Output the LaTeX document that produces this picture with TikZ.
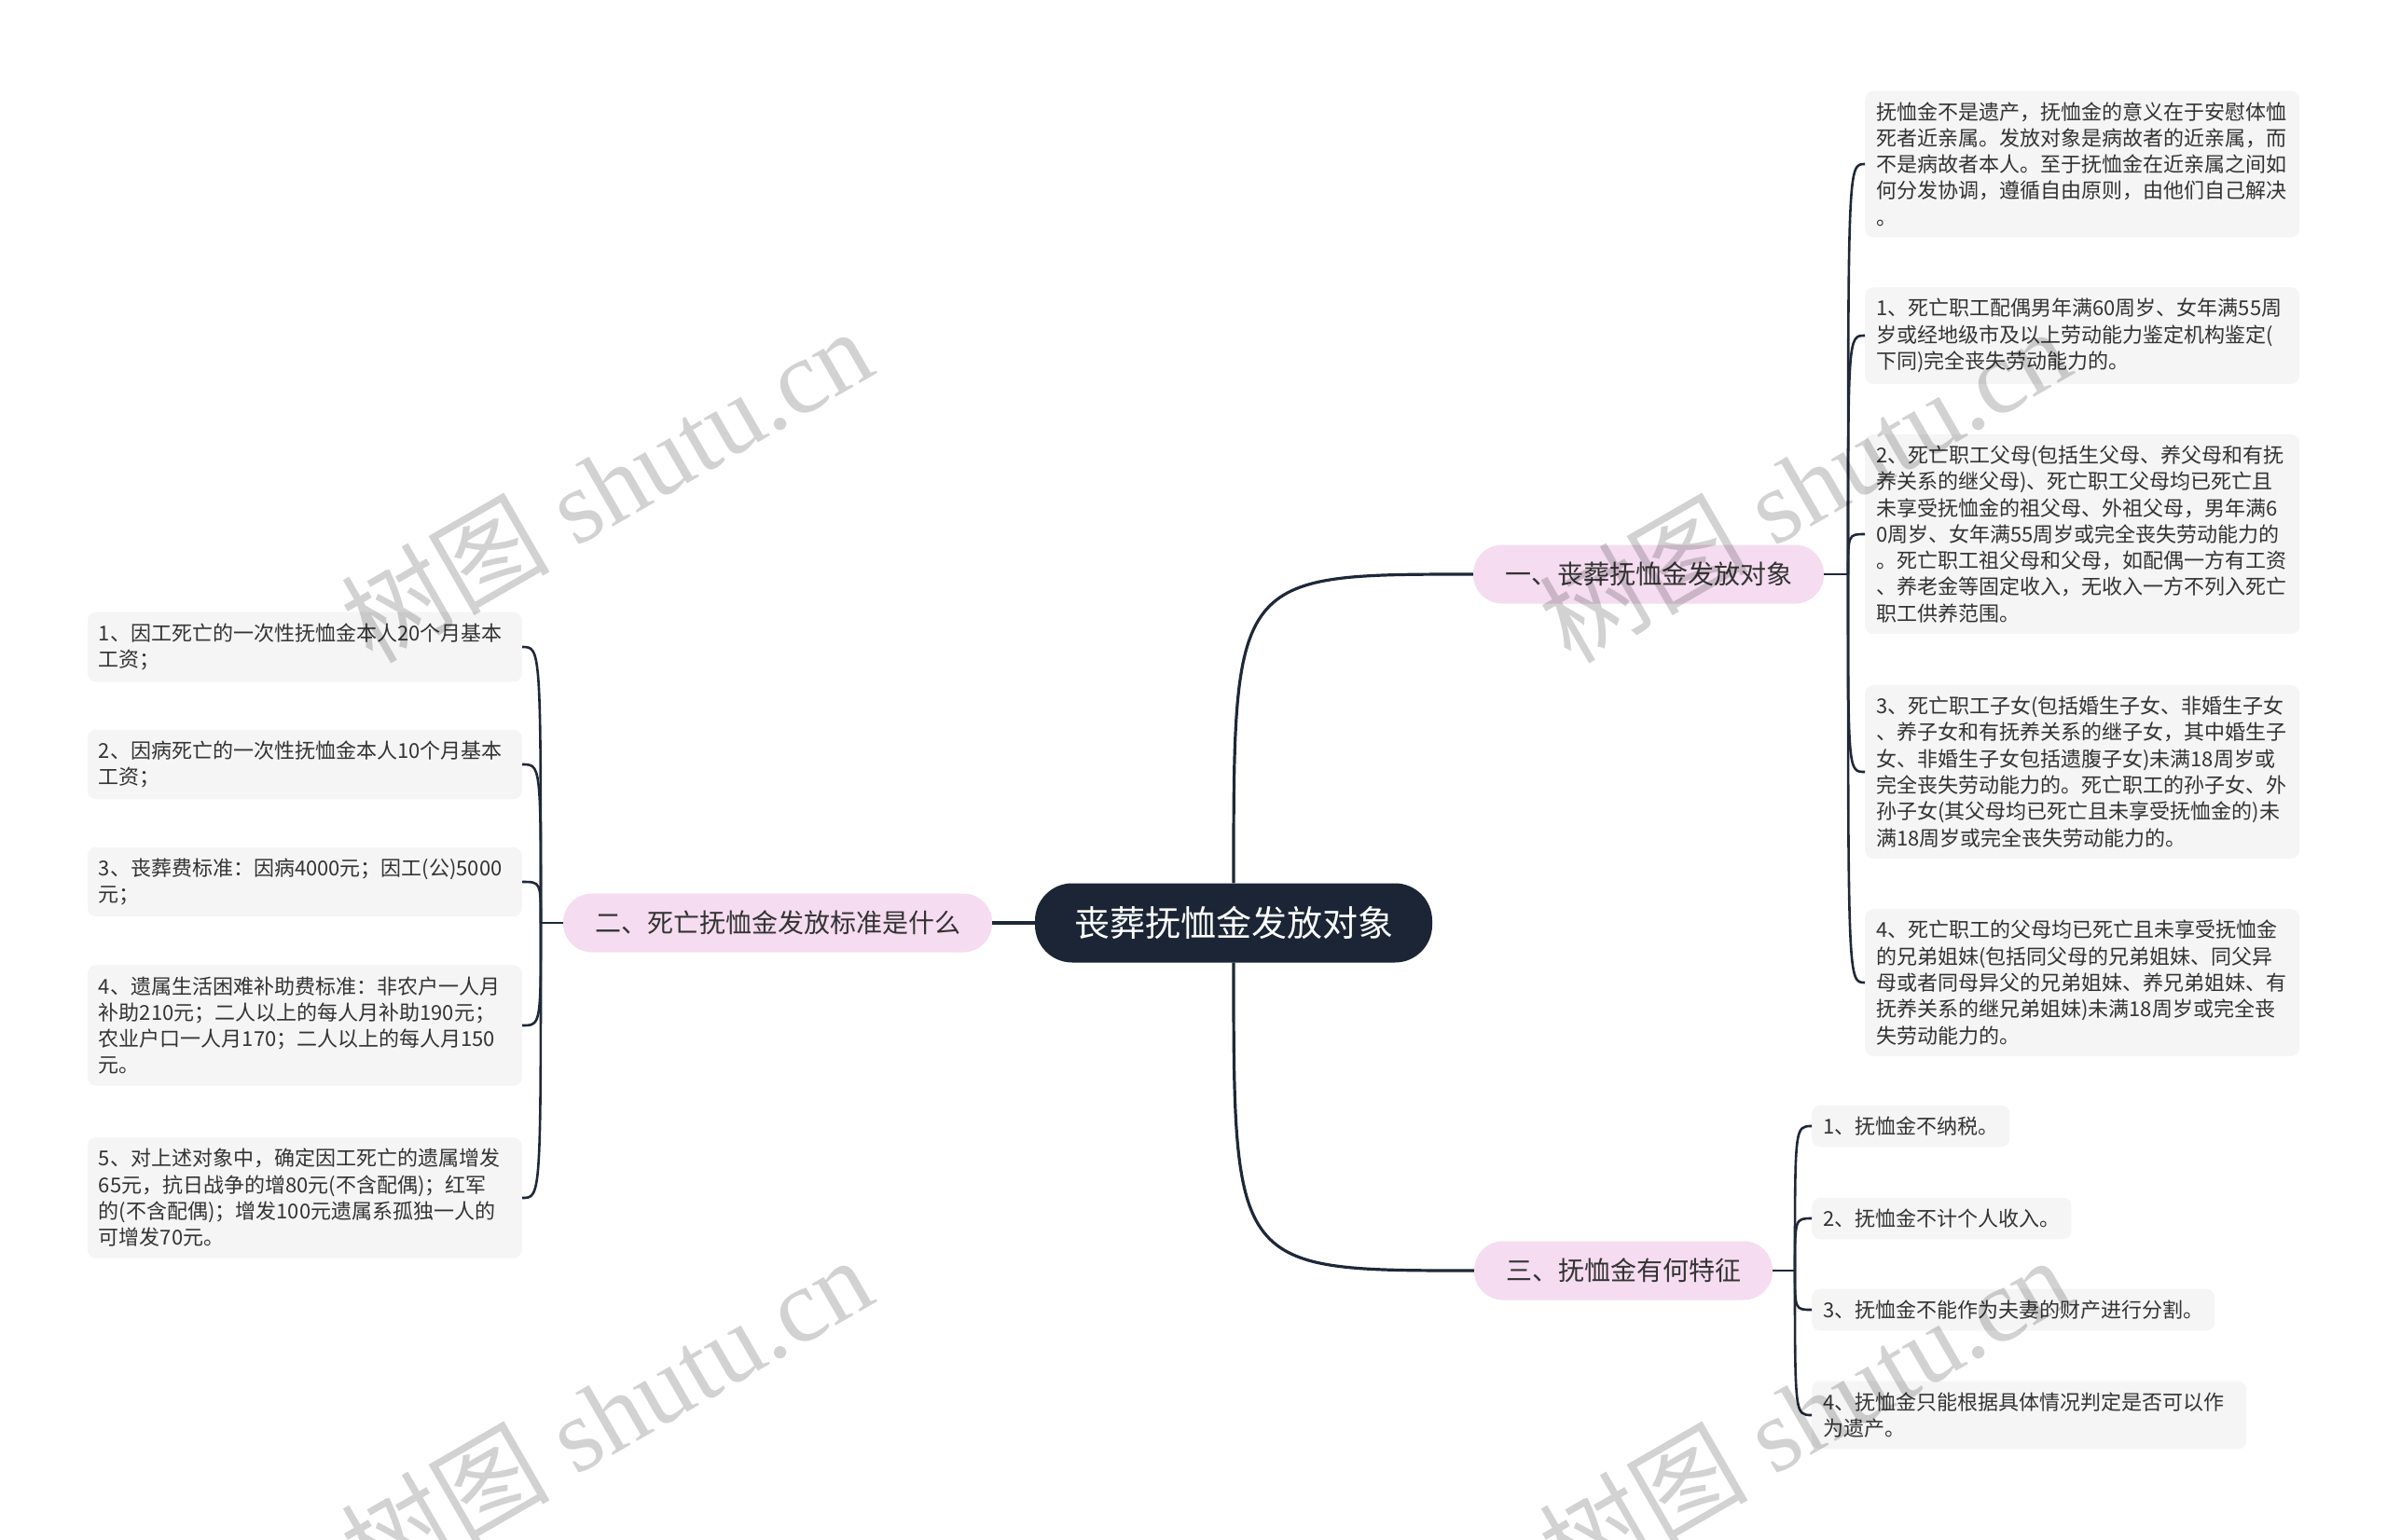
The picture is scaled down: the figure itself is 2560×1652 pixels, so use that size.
\documentclass[tikz,border=0pt]{standalone}
\usepackage{fontspec}
\newfontfamily\cjk{Noto Sans CJK SC}
\newfontfamily\wmfont{Liberation Serif}
\definecolor{rootfill}{HTML}{1B2535}
\definecolor{branchfill}{HTML}{F5DCF0}
\definecolor{leaffill}{HTML}{F5F5F5}
\definecolor{linkcol}{HTML}{1E2838}
\definecolor{leaftext}{HTML}{333333}
\definecolor{marktext}{HTML}{D2D2D2}
\begin{document}
\begin{tikzpicture}[x=1pt, y=-1pt,
    rootbox/.style={fill=rootfill, text=white, rounded corners=40pt, inner xsep=42pt, minimum height=85pt, font=\cjk\fontsize{38}{44}\selectfont},
    branch/.style={fill=branchfill, text=leaftext, rounded corners=31pt, inner xsep=34pt, minimum height=63pt, font=\cjk\fontsize{28}{34}\selectfont},
    leaf/.style={fill=leaffill, text=leaftext, rounded corners=9pt, inner xsep=12pt, inner ysep=12pt, align=left, font=\cjk\fontsize{22}{28.3}\selectfont},
    wideleaf/.style={leaf, text width=442pt},
    link/.style={draw=linkcol, line width=3.2pt},
    sublink/.style={draw=linkcol, line width=2.6pt},
    wmark/.style={text=marktext, rotate=30, font=\wmfont\fontsize{112}{112}\selectfont}]
    \useasboundingbox (0,0) rectangle (2560,1652);
    % centre and branches
    \node[rootbox] (root) at (1323,990) {丧葬抚恤金发放对象};
    \node[branch] (one) at (1768,616) {一、丧葬抚恤金发放对象};
    \node[branch] (two) at (834,990) {二、死亡抚恤金发放标准是什么};
    \node[branch] (three) at (1741,1363) {三、抚恤金有何特征};
    % leaves of branch one
    \node[wideleaf, anchor=west] (a0) at (2000,176) {抚恤金不是遗产，抚恤金的意义在于安慰体恤\\死者近亲属。发放对象是病故者的近亲属，而\\不是病故者本人。至于抚恤金在近亲属之间如\\何分发协调，遵循自由原则，由他们自己解决\\。};
    \node[wideleaf, anchor=west] (a1) at (2000,360) {1、死亡职工配偶男年满60周岁、女年满55周\\岁或经地级市及以上劳动能力鉴定机构鉴定(\\下同)完全丧失劳动能力的。};
    \node[wideleaf, anchor=west] (a2) at (2000,573) {2、死亡职工父母(包括生父母、养父母和有抚\\养关系的继父母)、死亡职工父母均已死亡且\\未享受抚恤金的祖父母、外祖父母，男年满6\\0周岁、女年满55周岁或完全丧失劳动能力的\\。死亡职工祖父母和父母，如配偶一方有工资\\、养老金等固定收入，无收入一方不列入死亡\\职工供养范围。};
    \node[wideleaf, anchor=west] (a3) at (2000,828) {3、死亡职工子女(包括婚生子女、非婚生子女\\、养子女和有抚养关系的继子女，其中婚生子\\女、非婚生子女包括遗腹子女)未满18周岁或\\完全丧失劳动能力的。死亡职工的孙子女、外\\孙子女(其父母均已死亡且未享受抚恤金的)未\\满18周岁或完全丧失劳动能力的。};
    \node[wideleaf, anchor=west] (a4) at (2000,1054) {4、死亡职工的父母均已死亡且未享受抚恤金\\的兄弟姐妹(包括同父母的兄弟姐妹、同父异\\母或者同母异父的兄弟姐妹、养兄弟姐妹、有\\抚养关系的继兄弟姐妹)未满18周岁或完全丧\\失劳动能力的。};
    % leaves of branch two
    \node[wideleaf, anchor=east] (l1) at (560,694) {1、因工死亡的一次性抚恤金本人20个月基本\\工资；};
    \node[wideleaf, anchor=east] (l2) at (560,820) {2、因病死亡的一次性抚恤金本人10个月基本\\工资；};
    \node[wideleaf, anchor=east] (l3) at (560,946) {3、丧葬费标准：因病4000元；因工(公)5000\\元；};
    \node[wideleaf, anchor=east] (l4) at (560,1100) {4、遗属生活困难补助费标准：非农户一人月\\补助210元；二人以上的每人月补助190元；\\农业户口一人月170；二人以上的每人月150\\元。};
    \node[wideleaf, anchor=east] (l5) at (560,1285) {5、对上述对象中，确定因工死亡的遗属增发\\65元，抗日战争的增80元(不含配偶)；红军\\的(不含配偶)；增发100元遗属系孤独一人的\\可增发70元。};
    % leaves of branch three
    \node[leaf, anchor=west] (c1) at (1943,1208) {1、抚恤金不纳税。};
    \node[leaf, anchor=west] (c2) at (1943,1307) {2、抚恤金不计个人收入。};
    \node[leaf, anchor=west] (c3) at (1943,1405) {3、抚恤金不能作为夫妻的财产进行分割。};
    \node[wideleaf, anchor=west] (c4) at (1943,1518) {4、抚恤金只能根据具体情况判定是否可以作\\为遗产。};
    % connectors
    \coordinate (ja) at (1982,616);
    \coordinate (jl) at (580,990);
    \coordinate (jc) at (1925,1363);
    \draw[link] (root.west) -- (two.east);
    \draw[link] (root.north) .. controls (root.north |- one.west) and (root.north |- one.west) .. (one.west);
    \draw[link] (root.south) .. controls (root.south |- three.west) and (root.south |- three.west) .. (three.west);
    \draw[sublink] (one.east) -- (ja);
    \draw[sublink] (two.west) -- (jl);
    \draw[sublink] (three.east) -- (jc);
    \foreach \n in {a0,a1,a2,a3,a4}
        \draw[sublink] (ja) .. controls (ja |- \n.west) and (ja |- \n.west) .. (\n.west);
    \foreach \n in {l1,l2,l3,l4,l5}
        \draw[sublink] (jl) .. controls (jl |- \n.east) and (jl |- \n.east) .. (\n.east);
    \foreach \n in {c1,c2,c3,c4}
        \draw[sublink] (jc) .. controls (jc |- \n.west) and (jc |- \n.west) .. (\n.west);
    % watermarks
    \begin{scope}[blend mode=multiply]
        \foreach \x/\y [count=\i] in {650/520, 1935/520, 650/1516, 1935/1516}
            \node[wmark] (wm\i) at (\x,\y) {{\cjk 树图} shutu.cn};
    \end{scope}
\end{tikzpicture}
\end{document}
